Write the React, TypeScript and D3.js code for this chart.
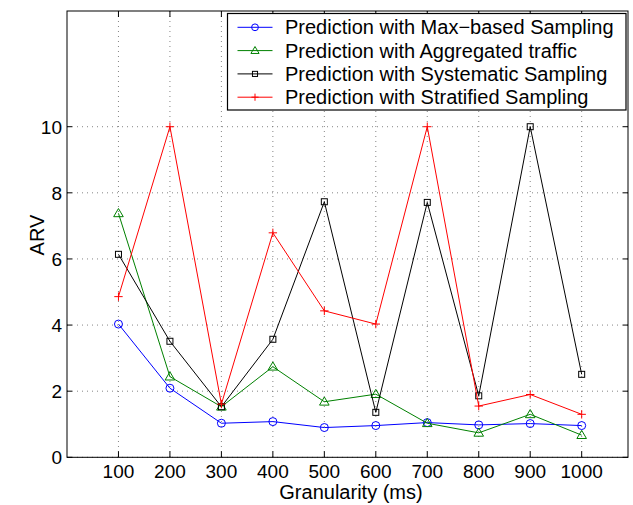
import React from "react";
import * as d3 from "d3";

const granularity = [100, 200, 300, 400, 500, 600, 700, 800, 900, 1000];
const maxBased = [4.03, 2.09, 1.03, 1.08, 0.9, 0.96, 1.05, 0.98, 1.02, 0.96];
const aggregated = [7.38, 2.44, 1.53, 2.74, 1.68, 1.91, 1.03, 0.74, 1.3, 0.67];
const systematic = [6.14, 3.51, 1.53, 3.57, 7.73, 1.36, 7.71, 1.86, 10.0, 2.51];
const stratified = [4.86, 10.0, 1.61, 6.79, 4.43, 4.03, 10.0, 1.55, 1.9, 1.3];
const xTicks = [100, 200, 300, 400, 500, 600, 700, 800, 900, 1000];
const yTicks = [0, 2, 4, 6, 8, 10];
const seriesNames = [
  "Prediction with Max\u2212based Sampling",
  "Prediction with Aggregated traffic",
  "Prediction with Systematic Sampling",
  "Prediction with Stratified Sampling",
];

const W = 633;
const H = 505;
const L = 67, R = 628, T = 11, B = 457.3;
const FONT = "'Liberation Sans', Arial, Helvetica, sans-serif";

type Marker = "circle" | "triangle" | "square" | "plus";

function MarkerShape({ type, x, y, color, small }: { type: Marker; x: number; y: number; color: string; small?: boolean }) {
  const k = small ? 0.85 : 1;
  if (type === "circle") return <circle cx={x} cy={y} r={4 * k} fill="none" stroke={color} strokeWidth={1} />;
  if (type === "square") {
    const h = 3 * k;
    return <rect x={x - h} y={y - h} width={2 * h} height={2 * h} fill="none" stroke={color} strokeWidth={1} />;
  }
  if (type === "triangle") {
    const s = 4.8 * k;
    return <path d={`M${x},${y - s}L${x + s},${y + s * 0.7}L${x - s},${y + s * 0.7}Z`} fill="none" stroke={color} strokeWidth={1} />;
  }
  const p = 4.2 * k;
  return <path d={`M${x - p},${y}H${x + p}M${x},${y - p}V${y + p}`} stroke={color} strokeWidth={1} />;
}

export default function App() {
  const x = d3.scaleLinear().domain([0, 1090]).range([L, R]);
  const y = d3.scaleLinear().domain([0, 13.5]).range([B, T]);
  const series = [
    { name: seriesNames[0], values: maxBased, color: "#0000ff", marker: "circle" as Marker },
    { name: seriesNames[1], values: aggregated, color: "#008000", marker: "triangle" as Marker },
    { name: seriesNames[2], values: systematic, color: "#000000", marker: "square" as Marker },
    { name: seriesNames[3], values: stratified, color: "#ff0000", marker: "plus" as Marker },
  ];
  const line = d3.line<number>().x((_, i) => x(granularity[i])).y((d) => y(d));

  const lx0 = 227.5, ly0 = 13.5, lx1 = 626, ly1 = 110;

  return (
    <svg width={W} height={H} style={{ position: "absolute", left: 0, top: 0, background: "#fff" }} fontFamily={FONT}>
      <rect x={0} y={0} width={W} height={H} fill="#fff" />
      {/* grid */}
      {xTicks.map((t) => (
        <line key={"gx" + t} x1={x(t)} x2={x(t)} y1={T} y2={B} stroke="#666" strokeWidth={0.8} strokeDasharray="1,4" />
      ))}
      {yTicks.map((t) => (
        <line key={"gy" + t} x1={L} x2={R} y1={y(t)} y2={y(t)} stroke="#666" strokeWidth={0.8} strokeDasharray="1,4" />
      ))}
      {/* ticks */}
      {xTicks.map((t) => (
        <g key={"tx" + t}>
          <line x1={x(t)} x2={x(t)} y1={B} y2={B - 6} stroke="#000" />
          <line x1={x(t)} x2={x(t)} y1={T} y2={T + 6} stroke="#000" />
          <text x={x(t)} y={478} textAnchor="middle" fontSize={19}>{t}</text>
        </g>
      ))}
      {yTicks.map((t) => (
        <g key={"ty" + t}>
          <line x1={L} x2={L + 5} y1={y(t)} y2={y(t)} stroke="#000" />
          <line x1={R} x2={R - 5} y1={y(t)} y2={y(t)} stroke="#000" />
          <text x={62} y={y(t) + 6.8} textAnchor="end" fontSize={19}>{t}</text>
        </g>
      ))}
      {/* series */}
      {series.map((s) => (
        <g key={s.name}>
          <path d={line(s.values) || ""} fill="none" stroke={s.color} strokeWidth={1} />
          {s.values.map((v, i) => (
            <MarkerShape key={i} type={s.marker} x={x(granularity[i])} y={y(v)} color={s.color} />
          ))}
        </g>
      ))}
      {/* axes box */}
      <rect x={L} y={T} width={R - L} height={B - T} fill="none" stroke="#000" strokeWidth={1} />
      {/* labels */}
      <text x={351} y={498.5} textAnchor="middle" fontSize={20}>Granularity (ms)</text>
      <text transform={`translate(44,235) rotate(-90)`} textAnchor="middle" fontSize={20}>ARV</text>
      {/* legend */}
      <rect x={lx0} y={ly0} width={lx1 - lx0} height={ly1 - ly0} fill="#fff" stroke="#000" strokeWidth={1.2} />
      {series.map((s, i) => {
        const cy = 27.3 + i * 23.3;
        return (
          <g key={"lg" + i}>
            <line x1={237.5} x2={272.5} y1={cy} y2={cy} stroke={s.color} strokeWidth={1} />
            <MarkerShape type={s.marker} x={255} y={cy} color={s.color} small />
            <text x={285} y={cy + 7} fontSize={20}>{s.name}</text>
          </g>
        );
      })}
    </svg>
  );
}
